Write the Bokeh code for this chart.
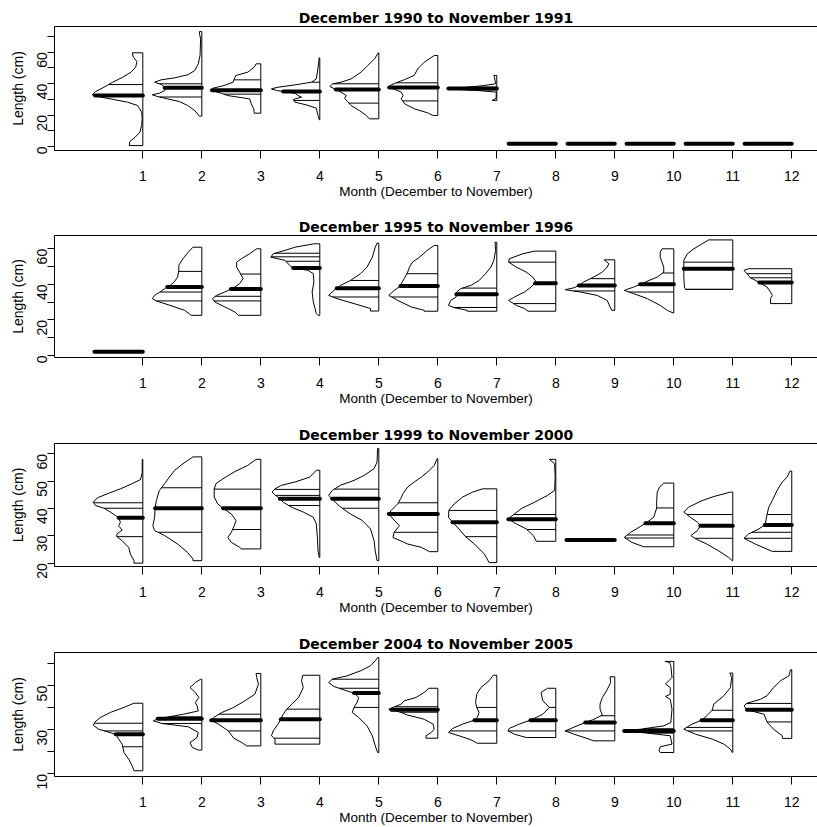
import math
import numpy as np
from bokeh.plotting import figure
from bokeh.models import FixedTicker, LinearAxis, Range1d
from bokeh.layouts import column
from bokeh.embed import file_html
from bokeh.resources import INLINE

MONTHS = list(range(1, 13))
MONTH_LABELS = [str(m) for m in MONTHS]
TITLES = ["December 1990 to November 1991", "December 1995 to November 1996",
          "December 1999 to November 2000", "December 2004 to November 2005"]
X_TITLE = "Month (December to November)"
Y_TITLE = "Length (cm)"

# ---------------- Panel 1: December 1990 to November 1991 ----------------
P1_LEN = [
    [0.6, 3.2, 5.9, 9.1, 13.4, 17.6, 21.8, 26.1, 28.2, 29.9, 31.4, 32.9, 35.0, 37.7, 40.9, 44.1, 47.3, 50.5, 54.1, 56.8, 59.6],
    [19.3, 22.9, 26.1, 28.6, 30.3, 32.0, 32.9, 33.9, 35.6, 37.7, 39.6, 40.9, 42.4, 43.7, 45.6, 48.3, 52.6, 57.9, 68.5, 71.7, 73.1],
    [21.2, 24.0, 27.1, 30.3, 32.4, 33.9, 35.6, 37.1, 38.8, 40.9, 43.0, 45.2, 47.3, 50.5, 52.6],
    [17.0, 19.7, 24.4, 26.5, 28.2, 29.9, 31.4, 32.4, 33.9, 35.6, 36.7, 37.7, 39.2, 40.9, 43.0, 50.0, 56.4],
    [17.6, 19.7, 22.9, 26.1, 28.6, 30.7, 32.4, 34.6, 36.7, 38.2, 39.9, 40.9, 43.0, 47.3, 51.5, 55.8, 59.6],
    [19.7, 21.4, 24.0, 27.1, 30.3, 32.4, 34.6, 36.3, 37.7, 39.2, 40.9, 42.6, 45.2, 49.4, 53.6, 57.9],
    [29.3, 30.7, 34.6, 35.6, 36.3, 36.9, 37.7, 38.8, 39.9, 44.1, 45.2],
    [1.7], [1.7], [1.7], [1.7], [1.7],
]
P1_WID = [
    [0.23, 0.22, 0.13, 0.05, 0.02, 0.01, 0.02, 0.09, 0.26, 0.49, 0.71, 0.86, 0.80, 0.66, 0.51, 0.34, 0.20, 0.12, 0.10, 0.16, 0.18],
    [0.04, 0.12, 0.24, 0.38, 0.58, 0.77, 0.84, 0.72, 0.63, 0.63, 0.69, 0.80, 0.69, 0.46, 0.24, 0.12, 0.06, 0.03, 0.02, 0.04, 0.04],
    [0.11, 0.12, 0.16, 0.19, 0.56, 0.67, 0.83, 0.81, 0.62, 0.47, 0.45, 0.42, 0.22, 0.11, 0.08],
    [0.01, 0.03, 0.06, 0.23, 0.42, 0.45, 0.31, 0.37, 0.42, 0.73, 0.82, 0.71, 0.42, 0.14, 0.06, 0.03, 0.01],
    [0.16, 0.21, 0.33, 0.47, 0.53, 0.58, 0.55, 0.64, 0.75, 0.83, 0.78, 0.64, 0.47, 0.30, 0.19, 0.07, 0.01],
    [0.08, 0.17, 0.40, 0.56, 0.62, 0.59, 0.62, 0.73, 0.84, 0.79, 0.68, 0.56, 0.40, 0.34, 0.23, 0.06],
    [0.08, 0.01, 0.01, 0.32, 0.66, 0.82, 0.49, 0.21, 0.02, 0.04, 0.05],
    [0.80], [0.80], [0.80], [0.80], [0.80],
]
P1_QUANT = [[39.4], [39.9, 31.5], [42.4, 33.3], [40.9, 29.3], [39.9, 27.6], [40.5, 29.0],
            [37.7, 36.0], [], [], [], [], []]
P1_MED = [32.4, 37.3, 35.8, 35.0, 36.3, 37.5, 36.9, 1.7, 1.7, 1.7, 1.7, 1.7]
P1_YTICKS = [0, 10, 20, 30, 40, 50, 60, 70]
P1_YLABELS = [0, 20, 40, 60]

# ---------------- Panel 2: December 1995 to November 1996 ----------------
P2_LEN = [
    [2.1],
    [22.6, 25.4, 28.2, 30.7, 32.0, 33.8, 35.7, 37.6, 39.4, 41.3, 44.1, 47.9, 50.7, 54.4, 58.1, 60.9],
    [22.6, 24.5, 27.3, 30.1, 32.0, 33.8, 35.7, 38.5, 40.4, 43.2, 46.9, 49.7, 52.5, 54.4, 57.2, 60.0],
    [22.6, 23.6, 26.4, 30.1, 35.7, 41.3, 46.0, 47.9, 49.2, 50.7, 53.5, 55.3, 57.2, 59.1, 60.9, 62.8],
    [25.0, 26.4, 29.2, 32.0, 33.8, 36.6, 39.4, 42.2, 46.0, 49.7, 55.3, 60.9, 63.2],
    [24.9, 25.4, 27.3, 31.0, 33.8, 36.6, 39.4, 40.4, 43.2, 46.9, 49.7, 52.5, 55.3, 59.1, 61.9],
    [24.9, 25.4, 26.9, 28.2, 31.0, 32.9, 35.7, 37.6, 39.4, 42.2, 46.0, 49.7, 53.5, 59.1, 63.7],
    [24.9, 26.4, 28.2, 31.0, 32.9, 35.7, 38.5, 41.3, 44.1, 46.9, 49.7, 52.5, 54.4, 57.2, 58.7],
    [25.4, 27.3, 31.0, 33.8, 35.7, 37.0, 38.1, 39.4, 41.3, 44.1, 46.9, 49.7, 51.6, 53.8],
    [23.9, 25.4, 28.2, 32.0, 34.8, 36.6, 38.5, 40.4, 42.2, 44.1, 46.9, 49.7, 52.5, 55.3, 58.1, 60.0],
    [37.2, 38.5, 44.1, 49.7, 53.5, 57.2, 60.0, 62.8, 65.0],
    [29.2, 32.0, 33.8, 35.7, 38.5, 41.3, 43.7, 46.0, 47.9, 48.8],
]
P2_WID = [
    [0.82],
    [0.18, 0.29, 0.54, 0.77, 0.84, 0.80, 0.71, 0.63, 0.54, 0.47, 0.41, 0.39, 0.39, 0.32, 0.23, 0.15],
    [0.38, 0.44, 0.61, 0.78, 0.82, 0.75, 0.61, 0.44, 0.36, 0.30, 0.36, 0.41, 0.41, 0.33, 0.19, 0.07],
    [0.03, 0.06, 0.08, 0.11, 0.13, 0.10, 0.11, 0.20, 0.45, 0.51, 0.59, 0.83, 0.79, 0.59, 0.42, 0.10],
    [0.14, 0.14, 0.42, 0.71, 0.85, 0.76, 0.65, 0.48, 0.31, 0.20, 0.11, 0.06, 0.03],
    [0.23, 0.23, 0.45, 0.68, 0.83, 0.74, 0.62, 0.62, 0.57, 0.51, 0.48, 0.43, 0.31, 0.18, 0.06],
    [0.50, 0.50, 0.72, 0.82, 0.78, 0.69, 0.68, 0.61, 0.44, 0.30, 0.19, 0.10, 0.05, 0.02, 0.03],
    [0.47, 0.53, 0.67, 0.80, 0.70, 0.53, 0.42, 0.33, 0.39, 0.50, 0.67, 0.80, 0.79, 0.56, 0.36],
    [0.05, 0.08, 0.13, 0.30, 0.58, 0.84, 0.69, 0.61, 0.53, 0.36, 0.21, 0.13, 0.10, 0.18],
    [0.01, 0.11, 0.23, 0.45, 0.68, 0.84, 0.68, 0.54, 0.42, 0.28, 0.17, 0.17, 0.20, 0.23, 0.23, 0.20],
    [0.80, 0.82, 0.83, 0.83, 0.83, 0.77, 0.66, 0.52, 0.41],
    [0.36, 0.36, 0.33, 0.36, 0.42, 0.56, 0.70, 0.76, 0.81, 0.73],
]
P2_QUANT = [[], [47.3, 35.7, 30.7], [45.8, 33.3, 30.7], [57.5, 55.5, 53.0], [42.2, 32.9],
            [46.0, 32.9], [37.9, 27.0], [52.5, 29.2], [43.2, 36.3], [46.4, 35.7],
            [52.5, 37.2], [46.0, 43.7]]
P2_MED = [2.1, 38.5, 37.4, 49.2, 37.8, 39.1, 34.4, 40.7, 39.4, 40.0, 48.8, 41.1]
P2_YTICKS = [0, 10, 20, 30, 40, 50, 60]
P2_YLABELS = [0, 20, 40, 60]

# ---------------- Panel 3: December 1999 to November 2000 ----------------
P3_LEN = [
    [20.0, 20.9, 23.3, 25.8, 28.2, 29.7, 30.7, 32.1, 33.7, 35.0, 36.6, 37.4, 38.7, 40.1, 41.1, 42.3, 43.9, 45.4, 47.2, 49.1, 50.6, 53.0, 58.0],
    [20.9, 21.5, 23.9, 27.0, 30.1, 31.9, 33.7, 36.8, 40.5, 42.9, 46.6, 49.1, 51.5, 54.0, 56.4, 58.9],
    [25.2, 25.8, 27.6, 29.4, 31.3, 33.7, 35.6, 38.0, 40.1, 41.7, 44.2, 47.1, 49.1, 50.9, 53.4, 55.8, 58.0],
    [22.1, 24.5, 29.4, 34.4, 36.8, 38.7, 40.5, 42.3, 43.9, 44.8, 46.0, 47.2, 48.5, 49.7, 51.5, 54.0],
    [20.9, 24.5, 28.2, 32.5, 35.6, 38.0, 40.1, 41.7, 43.6, 44.8, 46.6, 48.5, 50.3, 52.1, 54.6, 57.0, 62.0],
    [24.2, 25.8, 27.0, 27.6, 29.4, 31.3, 33.7, 36.2, 38.0, 39.3, 41.7, 43.6, 45.4, 47.9, 49.7, 51.5, 53.4, 55.8, 58.3],
    [20.2, 23.3, 27.0, 29.7, 32.5, 35.0, 36.8, 39.5, 41.7, 44.2, 46.0, 47.2],
    [28.0, 30.1, 32.5, 34.4, 36.2, 38.0, 39.9, 42.3, 44.8, 46.6, 51.5, 56.4, 58.0],
    [28.5],
    [26.0, 27.6, 29.4, 31.3, 33.1, 35.0, 36.8, 40.2, 42.9, 46.0, 47.9, 49.3],
    [20.9, 22.1, 24.5, 27.0, 28.9, 30.1, 31.9, 33.7, 35.0, 36.8, 38.7, 40.5, 42.9, 44.4, 46.0],
    [24.3, 27.0, 29.1, 30.7, 32.5, 34.1, 37.8, 40.5, 42.9, 46.6, 49.7, 51.5, 53.7],
]
P3_WID = [
    [0.15, 0.15, 0.21, 0.24, 0.35, 0.44, 0.44, 0.35, 0.41, 0.38, 0.41, 0.46, 0.55, 0.66, 0.80, 0.84, 0.77, 0.60, 0.38, 0.18, 0.04, 0.01, 0.01],
    [0.15, 0.15, 0.24, 0.41, 0.63, 0.80, 0.83, 0.80, 0.79, 0.77, 0.72, 0.63, 0.55, 0.46, 0.32, 0.15],
    [0.33, 0.36, 0.50, 0.56, 0.50, 0.45, 0.42, 0.50, 0.64, 0.73, 0.79, 0.79, 0.76, 0.64, 0.45, 0.22, 0.08],
    [0.01, 0.03, 0.04, 0.06, 0.11, 0.28, 0.48, 0.62, 0.69, 0.75, 0.81, 0.76, 0.65, 0.42, 0.17, 0.06],
    [0.03, 0.06, 0.08, 0.14, 0.28, 0.48, 0.62, 0.71, 0.79, 0.85, 0.79, 0.65, 0.42, 0.25, 0.08, 0.03, 0.02],
    [0.14, 0.28, 0.51, 0.57, 0.76, 0.74, 0.65, 0.76, 0.83, 0.79, 0.68, 0.63, 0.59, 0.51, 0.40, 0.28, 0.17, 0.06, 0.01],
    [0.13, 0.21, 0.38, 0.53, 0.64, 0.75, 0.82, 0.81, 0.72, 0.58, 0.41, 0.24],
    [0.33, 0.38, 0.50, 0.67, 0.81, 0.70, 0.59, 0.36, 0.14, 0.02, 0.01, 0.02, 0.11],
    [0.82],
    [0.51, 0.71, 0.84, 0.73, 0.59, 0.45, 0.34, 0.29, 0.29, 0.28, 0.24, 0.17],
    [0.01, 0.07, 0.24, 0.44, 0.63, 0.71, 0.60, 0.55, 0.60, 0.72, 0.83, 0.75, 0.52, 0.32, 0.04],
    [0.33, 0.62, 0.81, 0.73, 0.56, 0.45, 0.42, 0.39, 0.33, 0.25, 0.16, 0.08, 0.03],
]
P3_QUANT = [[42.1, 40.1, 29.7], [47.6, 31.3], [47.1, 32.3], [47.0, 44.8, 41.1], [47.1, 40.1],
            [42.1, 31.3], [39.3, 29.7], [37.8, 32.3], [], [40.2, 30.3, 29.2],
            [37.8, 29.1], [37.8, 31.3, 29.1]]
P3_MED = [36.6, 40.1, 40.1, 43.6, 43.6, 38.0, 35.0, 36.1, 28.5, 34.6, 33.7, 34.0]
P3_YTICKS = [20, 30, 40, 50, 60]
P3_YLABELS = [20, 30, 40, 50, 60]

# ---------------- Panel 4: December 2004 to November 2005 ----------------
P4_LEN = [
    [11.4, 13.6, 16.7, 19.7, 23.5, 25.8, 28.0, 29.1, 30.3, 32.1, 33.6, 35.6, 37.9, 40.2, 42.1],
    [20.8, 22.0, 24.2, 26.5, 28.8, 31.4, 32.9, 34.1, 35.2, 35.9, 37.1, 38.6, 40.9, 42.4, 44.7, 47.0, 49.2, 51.5, 53.0],
    [22.7, 24.2, 26.2, 29.5, 32.6, 34.4, 35.6, 37.9, 40.2, 43.2, 46.2, 50.8, 53.8, 55.6],
    [23.5, 25.8, 27.3, 29.5, 32.6, 34.8, 37.1, 39.4, 41.7, 44.7, 49.2, 52.3, 54.8],
    [19.7, 22.7, 27.3, 31.8, 35.6, 37.9, 40.2, 42.4, 44.7, 46.7, 47.7, 49.7, 51.5, 53.0, 54.5, 56.8, 59.1, 61.4, 62.9],
    [26.2, 27.3, 28.8, 30.3, 32.6, 34.8, 36.7, 37.9, 39.4, 41.7, 43.2, 44.7, 47.0, 48.9],
    [23.9, 25.5, 27.3, 28.8, 30.6, 32.6, 34.4, 35.6, 37.9, 40.2, 42.4, 46.2, 49.2, 52.3, 54.8],
    [26.5, 28.0, 29.5, 30.6, 32.6, 34.5, 37.1, 40.2, 43.2, 47.0, 48.9],
    [25.0, 26.1, 28.0, 29.5, 31.8, 33.3, 34.5, 36.7, 39.4, 41.7, 44.7, 47.7, 51.5, 54.1],
    [19.7, 20.5, 22.3, 23.5, 27.3, 28.5, 29.5, 30.3, 31.8, 33.3, 39.4, 43.9, 45.2, 46.2, 49.2, 50.8, 53.8, 59.1, 60.6, 61.1],
    [19.7, 21.2, 23.5, 25.8, 28.0, 30.3, 32.6, 34.5, 36.4, 38.9, 41.7, 45.5, 49.2, 53.8, 55.8],
    [26.1, 27.3, 30.3, 33.6, 37.1, 39.1, 40.9, 42.1, 43.9, 45.5, 49.2, 52.3, 54.5, 57.3],
]
P4_WID = [
    [0.15, 0.18, 0.24, 0.32, 0.35, 0.41, 0.46, 0.60, 0.75, 0.84, 0.81, 0.72, 0.55, 0.32, 0.15],
    [0.06, 0.16, 0.20, 0.08, 0.06, 0.23, 0.68, 0.82, 0.73, 0.56, 0.31, 0.06, 0.08, 0.11, 0.05, 0.11, 0.20, 0.11, 0.02],
    [0.24, 0.32, 0.46, 0.55, 0.72, 0.84, 0.80, 0.66, 0.46, 0.27, 0.10, 0.04, 0.07, 0.08],
    [0.76, 0.76, 0.82, 0.79, 0.71, 0.66, 0.62, 0.56, 0.47, 0.36, 0.28, 0.31, 0.29],
    [0.02, 0.06, 0.11, 0.20, 0.34, 0.45, 0.42, 0.37, 0.34, 0.42, 0.54, 0.76, 0.85, 0.79, 0.54, 0.31, 0.14, 0.06, 0.02],
    [0.20, 0.20, 0.11, 0.06, 0.08, 0.23, 0.51, 0.62, 0.83, 0.62, 0.57, 0.37, 0.23, 0.15],
    [0.33, 0.44, 0.64, 0.82, 0.75, 0.58, 0.38, 0.33, 0.30, 0.34, 0.36, 0.34, 0.27, 0.13, 0.06],
    [0.50, 0.70, 0.81, 0.79, 0.62, 0.42, 0.22, 0.11, 0.22, 0.25, 0.14],
    [0.36, 0.47, 0.69, 0.84, 0.64, 0.50, 0.38, 0.21, 0.25, 0.25, 0.21, 0.14, 0.07, 0.08],
    [0.23, 0.25, 0.23, 0.03, 0.06, 0.45, 0.84, 0.56, 0.17, 0.05, 0.03, 0.06, 0.14, 0.06, 0.06, 0.14, 0.03, 0.05, 0.07, 0.15],
    [0.01, 0.04, 0.15, 0.35, 0.63, 0.83, 0.69, 0.52, 0.44, 0.35, 0.32, 0.15, 0.04, 0.02, 0.05],
    [0.16, 0.16, 0.31, 0.42, 0.47, 0.76, 0.81, 0.76, 0.53, 0.42, 0.31, 0.19, 0.05, 0.02],
]
P4_QUANT = [[33.0, 29.5, 22.3], [35.9, 32.9], [37.1, 29.5], [39.4, 26.2], [53.0, 48.9, 40.2],
            [40.5, 38.0], [40.2, 29.5], [40.2, 29.5], [36.4, 29.5], [30.5, 28.5],
            [38.9, 31.1, 29.5], [42.0, 33.6]]
P4_MED = [28.0, 35.0, 34.4, 34.8, 46.7, 39.1, 34.4, 34.4, 33.3, 29.5, 34.4, 39.1]
P4_YTICKS = [10, 20, 30, 40, 50, 60]
P4_YLABELS = [10, 30, 50]

# ---------------- layout (pixel geometry) ----------------
FONT = "Liberation Sans"
XLIM = (-0.497, 12.436)
PANELS = [
    # data, y-range, border top, frame height, border bottom
    (P1_LEN, P1_WID, P1_QUANT, P1_MED, P1_YTICKS, P1_YLABELS, (-2.54, 76.34), 26, 124, 58),
    (P2_LEN, P2_WID, P2_QUANT, P2_MED, P2_YTICKS, P2_YLABELS, (-1.12, 67.48), 27, 122, 59),
    (P3_LEN, P3_WID, P3_QUANT, P3_MED, P3_YTICKS, P3_YLABELS, (18.77, 63.80), 27, 123, 58),
    (P4_LEN, P4_WID, P4_QUANT, P4_MED, P4_YTICKS, P4_YLABELS, (8.79, 65.15), 28, 124, 51),
]


def make_panel(title, lens, wids, quants, meds, yticks, ylabels, ylim, btop, fh, bbot):
    p = figure(width=817, height=btop + fh + bbot,
               x_range=Range1d(*XLIM), y_range=Range1d(*ylim),
               output_backend="svg", toolbar_location=None,
               min_border_left=54, min_border_right=0,
               min_border_top=btop, min_border_bottom=bbot)
    p.outline_line_color = None
    p.xgrid.visible = False
    p.ygrid.visible = False
    p.background_fill_color = "white"
    p.border_fill_color = "white"

    # title
    p.title.text = title
    p.title.align = "center"
    p.title.text_font = "DejaVu Sans"
    p.title.text_font_size = "14px"
    p.title.text_font_style = "bold"
    p.title.text_color = "black"
    p.title.standoff = 1

    # x axis
    xa = p.xaxis[0]
    xa.ticker = FixedTicker(ticks=MONTHS, minor_ticks=[])
    xa.major_label_overrides = {m: lab for m, lab in zip(MONTHS, MONTH_LABELS)}
    xa.axis_label = X_TITLE
    xa.axis_label_text_font = FONT
    xa.axis_label_text_font_size = "13.5px"
    xa.axis_label_text_font_style = "normal"
    xa.axis_label_text_color = "black"
    xa.axis_label_standoff = 0
    xa.major_label_text_font = FONT
    xa.major_label_text_font_size = "14px"
    xa.major_label_text_color = "black"
    xa.major_label_standoff = 12
    xa.major_tick_out = 8
    xa.major_tick_in = 0
    xa.minor_tick_line_color = None
    xa.axis_line_color = "black"
    xa.major_tick_line_color = "black"

    # y axis
    ya = p.yaxis[0]
    ya.ticker = FixedTicker(ticks=yticks, minor_ticks=[])
    ya.major_label_overrides = {t: (str(t) if t in ylabels else "") for t in yticks}
    ya.major_label_orientation = math.pi / 2
    ya.axis_label = Y_TITLE
    ya.axis_label_text_font = FONT
    ya.axis_label_text_font_size = "14px"
    ya.axis_label_text_font_style = "normal"
    ya.axis_label_text_color = "black"
    ya.axis_label_standoff = 4
    ya.major_label_text_font = FONT
    ya.major_label_text_font_size = "14px"
    ya.major_label_text_color = "black"
    ya.major_label_standoff = 5
    ya.major_tick_out = 7
    ya.major_tick_in = 0
    ya.minor_tick_line_color = None
    ya.axis_line_color = "black"

    # top border of the box (an empty axis, line only)
    top = LinearAxis(ticker=FixedTicker(ticks=[]), axis_line_color="black",
                     major_tick_line_color=None, minor_tick_line_color=None,
                     major_tick_out=0, major_tick_in=0, major_label_standoff=0,
                     axis_label_standoff=0, major_label_text_font_size="1px")
    p.add_layout(top, "above")

    # violins (half densities to the left of each month)
    xs, ys = [], []
    qx0, qx1, qy = [], [], []
    mx0, mx1, my = [], [], []
    for m, L, W, Q, med in zip(MONTHS, lens, wids, quants, meds):
        L = np.asarray(L, float)
        W = np.asarray(W, float)
        if len(L) > 1:
            xs.append(list(m - W) + [m, m])
            ys.append(list(L) + [L[-1], L[0]])
        for q in Q:
            qx0.append(m - float(np.interp(q, L, W)))
            qx1.append(m)
            qy.append(q)
        mx0.append(m - float(np.interp(med, L, W)))
        mx1.append(m)
        my.append(med)

    p.patches(xs=xs, ys=ys, fill_color=None, line_color="black", line_width=1)
    p.segment(x0=qx0, y0=qy, x1=qx1, y1=qy, line_color="black", line_width=1)
    p.segment(x0=mx0, y0=my, x1=mx1, y1=my, line_color="black", line_width=4,
              line_cap="round")
    return p


figs = [make_panel(t, *args) for t, args in zip(TITLES, PANELS)]
layout = column(*figs, spacing=0)
open("out.html", "w").write(file_html(layout, INLINE))
